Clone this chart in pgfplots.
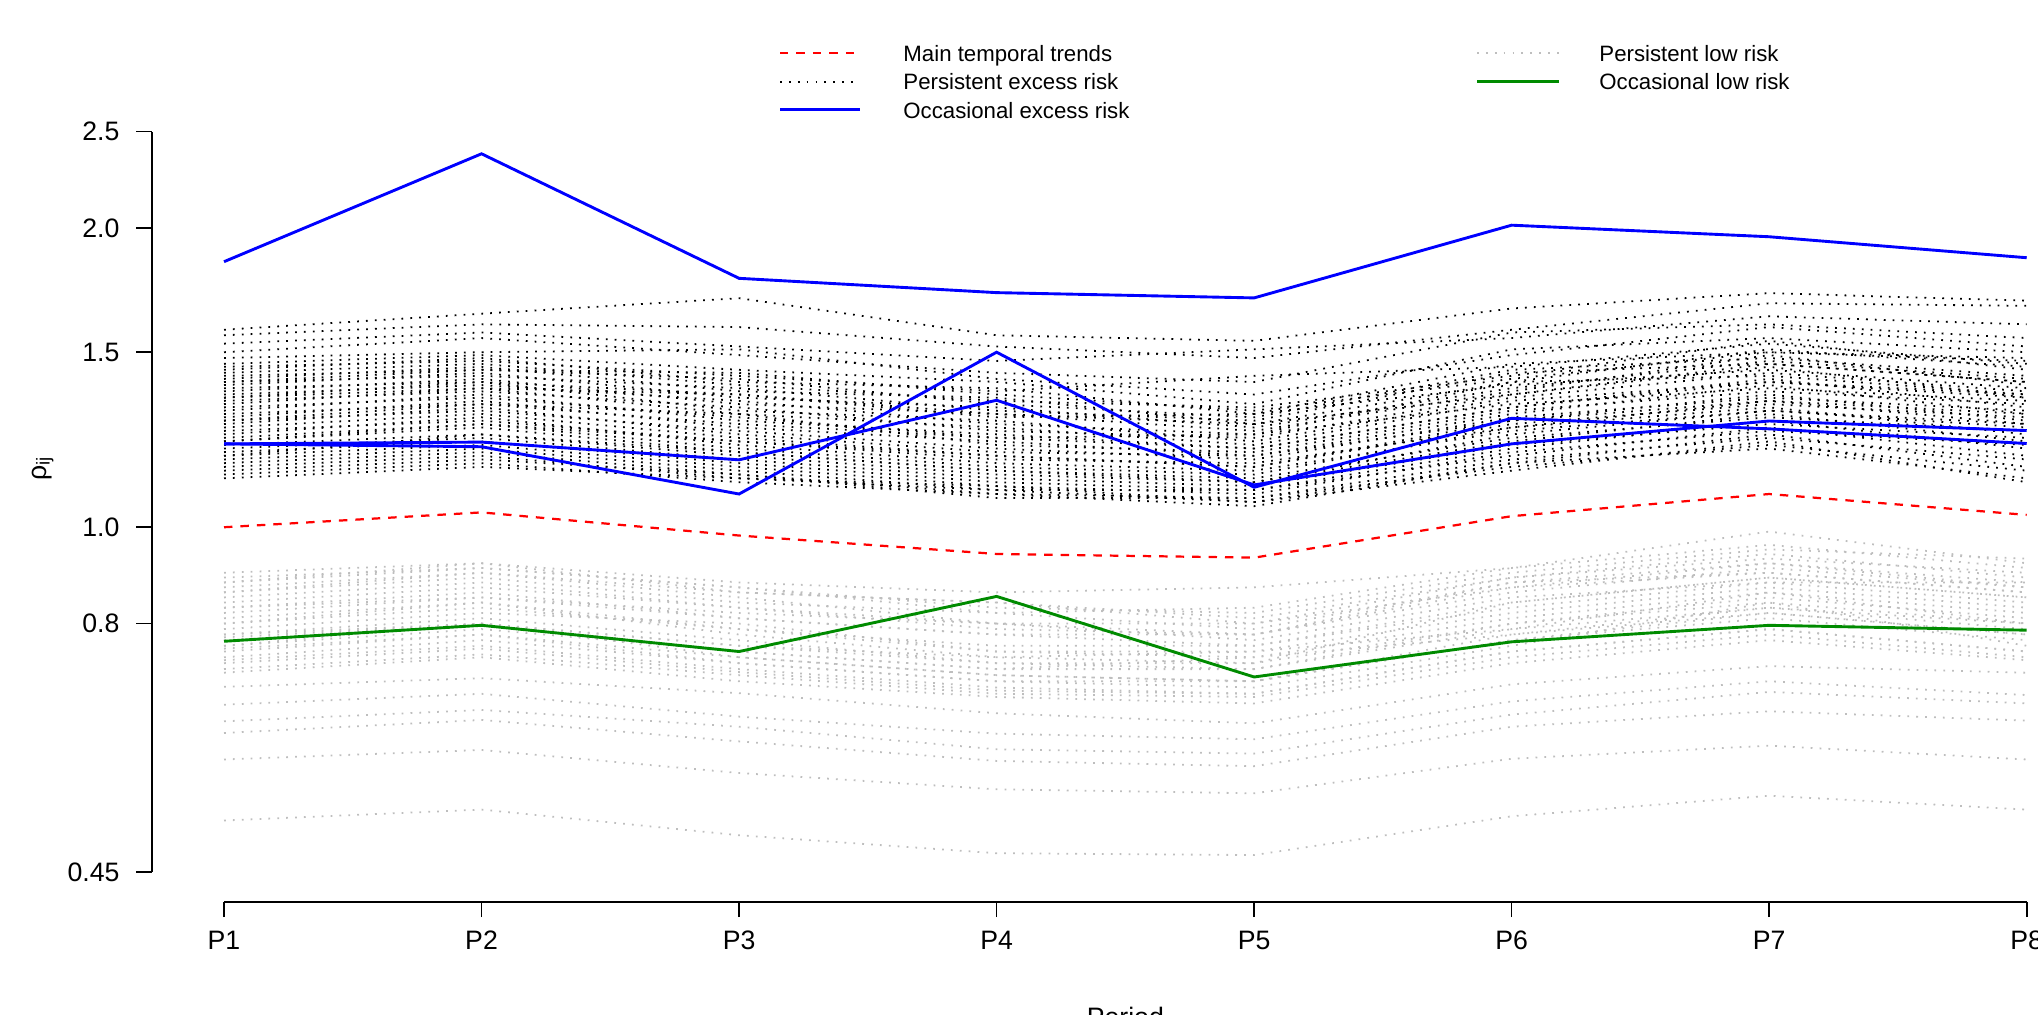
\documentclass[border=0pt]{standalone}
\usepackage{fontspec}
\setmainfont{Liberation Sans}
\usepackage{pgfplots}
\pgfplotsset{compat=1.18}

\definecolor{rblue}{RGB}{0,0,255}
\definecolor{rred}{RGB}{255,0,0}
\definecolor{rgreen}{RGB}{0,139,0}
\definecolor{rgrey}{RGB}{190,190,190}

\tikzset{
 dotblack/.style={black, line width=0.8pt, dash pattern=on 0.8pt off 3.2pt},
 dotgrey/.style={rgrey, line width=0.8pt, dash pattern=on 0.8pt off 3.2pt},
 reddash/.style={rred, line width=1pt, dash pattern=on 3.8pt off 3.6pt},
 blueline/.style={rblue, line width=1.3pt},
 greenline/.style={rgreen, line width=1.3pt},
}

\newcommand\bl[8]{\addplot[dotblack,forget plot] coordinates {(1,#1)(2,#2)(3,#3)(4,#4)(5,#5)(6,#6)(7,#7)(8,#8)};}
\newcommand\gl[8]{\addplot[dotgrey,forget plot] coordinates {(1,#1)(2,#2)(3,#3)(4,#4)(5,#5)(6,#6)(7,#7)(8,#8)};}

\begin{document}
\begin{tikzpicture}
\begin{axis}[
  at={(68.36pt,50.99pt)}, anchor=south west,
  scale only axis, width=876.1pt, height=359.8pt,
  xmin=0.72, xmax=8.28,
  ymode=log, ymin=0.4201, ymax=2.677,
  axis lines*=left, axis line style={draw=none},
  tick align=outside, tick pos=left,
  major tick length=7pt,
  tick style={black, line width=0.75pt},
  xtick={1,2,3,4,5,6,7,8},
  xticklabels={P1,P2,P3,P4,P5,P6,P7,P8},
  ytick={0.45,0.8,1,1.5,2,2.5},
  yticklabels={0.45,0.8,1.0,1.5,2.0,2.5},
  yminorticks=false, xminorticks=false,
  ticklabel style={font=\fontsize{12}{14}\selectfont},
  xticklabel style={anchor=north, inner sep=0pt, yshift=-6.1pt},
  yticklabel style={anchor=east, inner sep=0pt, xshift=-7.4pt},
  xlabel={Period},
  xlabel style={font=\fontsize{12}{14}\selectfont, at={(axis description cs:0.5,0)}, anchor=north, inner sep=0pt, yshift=-47.2pt},
  ylabel={ρ\raisebox{-1.6pt}{\fontsize{8.4}{9}\selectfont ij}},
  ylabel style={font=\fontsize{12}{14}\selectfont, at={(axis description cs:-0.0544,0.5411)}, anchor=base, inner sep=0pt},
  clip=false,
]
% axis lines (R style, detached)
\draw[black, line width=0.75pt] (axis cs:0.72,0.45) -- (axis cs:0.72,2.5);
\draw[black, line width=0.75pt] (axis cs:1,0.4201) -- (axis cs:8,0.4201);

% Persistent low risk (grey dotted)
\gl{0.507}{0.520}{0.490}{0.470}{0.468}{0.512}{0.537}{0.520}
\gl{0.584}{0.597}{0.566}{0.545}{0.540}{0.585}{0.603}{0.584}
\gl{0.621}{0.640}{0.609}{0.582}{0.575}{0.630}{0.653}{0.639}
\gl{0.638}{0.655}{0.630}{0.598}{0.592}{0.648}{0.683}{0.665}
\gl{0.663}{0.680}{0.645}{0.620}{0.612}{0.668}{0.700}{0.678}
\gl{0.691}{0.705}{0.681}{0.650}{0.635}{0.695}{0.725}{0.714}
\gl{0.90}{0.92}{0.88}{0.86}{0.87}{0.91}{0.99}{0.92}
\gl{0.89}{0.91}{0.87}{0.83}{0.82}{0.90}{0.95}{0.93}
\gl{0.88}{0.92}{0.86}{0.84}{0.80}{0.89}{0.93}{0.90}
\gl{0.87}{0.90}{0.86}{0.84}{0.81}{0.89}{0.94}{0.89}
\gl{0.86}{0.89}{0.84}{0.82}{0.79}{0.88}{0.92}{0.88}
\gl{0.85}{0.88}{0.83}{0.80}{0.80}{0.87}{0.92}{0.87}
\gl{0.84}{0.87}{0.83}{0.79}{0.78}{0.86}{0.91}{0.87}
\gl{0.83}{0.86}{0.81}{0.78}{0.78}{0.88}{0.90}{0.86}
\gl{0.82}{0.85}{0.81}{0.78}{0.76}{0.84}{0.89}{0.85}
\gl{0.81}{0.84}{0.79}{0.76}{0.76}{0.83}{0.88}{0.84}
\gl{0.80}{0.83}{0.79}{0.75}{0.75}{0.82}{0.87}{0.83}
\gl{0.79}{0.82}{0.80}{0.75}{0.74}{0.81}{0.86}{0.82}
\gl{0.78}{0.81}{0.77}{0.73}{0.73}{0.80}{0.85}{0.81}
\gl{0.775}{0.80}{0.76}{0.73}{0.72}{0.80}{0.84}{0.80}
\gl{0.77}{0.80}{0.75}{0.72}{0.72}{0.79}{0.83}{0.79}
\gl{0.76}{0.79}{0.75}{0.72}{0.74}{0.78}{0.82}{0.78}
\gl{0.755}{0.78}{0.74}{0.71}{0.70}{0.77}{0.82}{0.78}
\gl{0.75}{0.78}{0.73}{0.70}{0.70}{0.77}{0.81}{0.77}
\gl{0.74}{0.77}{0.73}{0.70}{0.69}{0.76}{0.84}{0.76}
\gl{0.735}{0.76}{0.72}{0.69}{0.68}{0.75}{0.79}{0.75}
\gl{0.73}{0.755}{0.715}{0.685}{0.68}{0.75}{0.79}{0.75}
\gl{0.72}{0.745}{0.71}{0.68}{0.675}{0.74}{0.78}{0.74}
\gl{0.714}{0.74}{0.70}{0.675}{0.665}{0.73}{0.77}{0.735}
\gl{0.86}{0.90}{0.85}{0.80}{0.78}{0.87}{0.90}{0.86}
\gl{0.83}{0.85}{0.82}{0.80}{0.77}{0.85}{0.88}{0.88}
\gl{0.80}{0.84}{0.78}{0.74}{0.73}{0.84}{0.89}{0.85}
\gl{0.78}{0.80}{0.76}{0.74}{0.75}{0.79}{0.86}{0.80}
\gl{0.76}{0.80}{0.74}{0.71}{0.70}{0.78}{0.83}{0.80}
\gl{0.88}{0.91}{0.87}{0.82}{0.83}{0.91}{0.96}{0.91}

% Persistent excess risk (black dotted)
\bl{1.58}{1.64}{1.70}{1.56}{1.54}{1.66}{1.72}{1.69}
\bl{1.56}{1.60}{1.59}{1.52}{1.48}{1.58}{1.68}{1.67}
\bl{1.53}{1.57}{1.52}{1.47}{1.51}{1.55}{1.63}{1.60}
\bl{1.50}{1.55}{1.49}{1.43}{1.40}{1.57}{1.60}{1.55}
\bl{1.48}{1.50}{1.51}{1.41}{1.36}{1.49}{1.59}{1.52}
\bl{1.46}{1.49}{1.44}{1.40}{1.33}{1.51}{1.55}{1.50}
\bl{1.45}{1.47}{1.42}{1.37}{1.42}{1.45}{1.53}{1.46}
\bl{1.44}{1.48}{1.40}{1.38}{1.30}{1.46}{1.50}{1.48}
\bl{1.43}{1.46}{1.39}{1.34}{1.32}{1.42}{1.54}{1.44}
\bl{1.42}{1.44}{1.41}{1.33}{1.29}{1.44}{1.48}{1.42}
\bl{1.41}{1.45}{1.37}{1.35}{1.27}{1.40}{1.51}{1.45}
\bl{1.40}{1.42}{1.38}{1.31}{1.28}{1.43}{1.46}{1.40}
\bl{1.39}{1.43}{1.35}{1.32}{1.26}{1.38}{1.47}{1.41}
\bl{1.38}{1.40}{1.36}{1.29}{1.30}{1.39}{1.44}{1.38}
\bl{1.37}{1.41}{1.33}{1.30}{1.25}{1.37}{1.49}{1.39}
\bl{1.36}{1.39}{1.34}{1.27}{1.24}{1.40}{1.42}{1.36}
\bl{1.35}{1.40}{1.31}{1.28}{1.22}{1.35}{1.43}{1.37}
\bl{1.34}{1.37}{1.32}{1.25}{1.23}{1.36}{1.45}{1.35}
\bl{1.33}{1.38}{1.30}{1.26}{1.21}{1.34}{1.40}{1.36}
\bl{1.32}{1.35}{1.29}{1.23}{1.24}{1.33}{1.38}{1.34}
\bl{1.31}{1.36}{1.28}{1.24}{1.20}{1.32}{1.41}{1.32}
\bl{1.30}{1.33}{1.30}{1.21}{1.19}{1.31}{1.37}{1.33}
\bl{1.29}{1.34}{1.26}{1.22}{1.18}{1.30}{1.39}{1.30}
\bl{1.28}{1.31}{1.25}{1.20}{1.17}{1.29}{1.35}{1.31}
\bl{1.27}{1.32}{1.24}{1.19}{1.18}{1.28}{1.36}{1.28}
\bl{1.26}{1.30}{1.23}{1.18}{1.15}{1.27}{1.33}{1.29}
\bl{1.25}{1.28}{1.22}{1.17}{1.16}{1.26}{1.34}{1.27}
\bl{1.24}{1.29}{1.21}{1.16}{1.14}{1.25}{1.31}{1.26}
\bl{1.23}{1.27}{1.20}{1.15}{1.13}{1.26}{1.32}{1.24}
\bl{1.22}{1.26}{1.19}{1.14}{1.12}{1.23}{1.29}{1.25}
\bl{1.21}{1.24}{1.18}{1.13}{1.11}{1.22}{1.30}{1.22}
\bl{1.20}{1.23}{1.17}{1.12}{1.10}{1.21}{1.27}{1.23}
\bl{1.19}{1.22}{1.16}{1.11}{1.09}{1.20}{1.28}{1.20}
\bl{1.18}{1.21}{1.15}{1.10}{1.08}{1.19}{1.25}{1.21}
\bl{1.17}{1.20}{1.14}{1.09}{1.09}{1.18}{1.26}{1.18}
\bl{1.16}{1.19}{1.13}{1.08}{1.07}{1.17}{1.23}{1.17}
\bl{1.15}{1.18}{1.12}{1.10}{1.06}{1.16}{1.24}{1.15}
\bl{1.14}{1.17}{1.13}{1.07}{1.07}{1.15}{1.21}{1.14}
\bl{1.13}{1.16}{1.11}{1.08}{1.05}{1.16}{1.20}{1.12}
\bl{1.12}{1.15}{1.12}{1.09}{1.06}{1.14}{1.22}{1.11}
\bl{1.35}{1.38}{1.36}{1.30}{1.27}{1.36}{1.46}{1.40}
\bl{1.28}{1.33}{1.27}{1.23}{1.20}{1.32}{1.40}{1.35}
\bl{1.22}{1.27}{1.22}{1.18}{1.15}{1.28}{1.34}{1.30}
\bl{1.40}{1.44}{1.43}{1.36}{1.31}{1.41}{1.50}{1.47}
\bl{1.18}{1.24}{1.19}{1.14}{1.11}{1.24}{1.31}{1.27}

% Main temporal trends
\addplot[reddash] coordinates {(1,1.000)(2,1.035)(3,0.981)(4,0.940)(5,0.932)(6,1.026)(7,1.080)(8,1.029)};
% Occasional excess risk
\addplot[blueline] coordinates {(1,1.850)(2,2.375)(3,1.780)(4,1.722)(5,1.701)(6,2.013)(7,1.960)(8,1.867)};
\addplot[blueline] coordinates {(1,1.213)(2,1.205)(3,1.080)(4,1.500)(5,1.097)(6,1.287)(7,1.256)(8,1.214)};
\addplot[blueline] coordinates {(1,1.213)(2,1.218)(3,1.169)(4,1.342)(5,1.103)(6,1.213)(7,1.279)(8,1.251)};
% Occasional low risk
\addplot[greenline] coordinates {(1,0.768)(2,0.797)(3,0.750)(4,0.852)(5,0.707)(6,0.767)(7,0.797)(8,0.788)};
\end{axis}

% legend (R style, two columns, no box)
\begin{scope}[x=0.45pt, y=0.45pt, every node/.style={anchor=base west, inner sep=0pt, font=\fontsize{10}{12}\selectfont}]
\draw[reddash] (780,961.7) -- (860,961.7);
\node at (903,953.3) {Main temporal trends};
\draw[dotblack] (780,933.3) -- (860,933.3);
\node at (903,925) {Persistent excess risk};
\draw[blueline] (780,905.7) -- (860,905.7);
\node at (903,896.7) {Occasional excess risk};
\draw[dotgrey] (1477,961.7) -- (1559,961.7);
\node at (1599,953.3) {Persistent low risk};
\draw[greenline] (1477,933.3) -- (1559,933.3);
\node at (1599,925) {Occasional low risk};
\end{scope}

\pgfresetboundingbox
\path[use as bounding box] (0,0) rectangle (917.1pt,456.75pt);
\end{tikzpicture}
\end{document}
